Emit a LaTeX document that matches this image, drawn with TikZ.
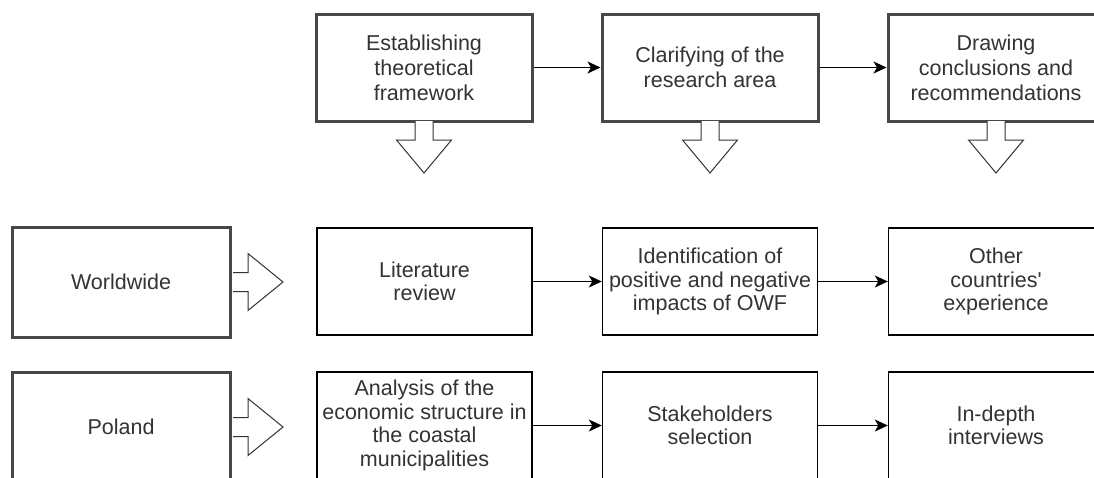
\documentclass[tikz,border=0pt]{standalone}
\usepackage{fontspec}
\setmainfont{Liberation Sans}
\usetikzlibrary{arrows.meta,calc}
\begin{document}
\begin{tikzpicture}[x=1pt,y=-1pt,
  thickbox/.style={draw=black!72,line width=3pt,fill=white,minimum width=216pt,minimum height=107pt,inner sep=0pt,align=center,text=black!80,font=\fontsize{21.5}{25}\selectfont},
  sidebox/.style={thickbox,minimum width=218pt,minimum height=110pt},
  thinbox/.style={draw=black,line width=1.4pt,fill=white,minimum width=215pt,minimum height=107pt,inner sep=0pt,align=center,text=black!80,font=\fontsize{21.5}{23.5}\selectfont},
  conn/.style={draw=black,line width=1.3pt,-{Stealth[length=13pt,width=12pt,inset=3.5pt]}},
  blockarrow/.style={draw=black!80,line width=1pt,fill=white,line join=miter}
]
\useasboundingbox (0,0) rectangle (1094,477);
\clip (0,0) rectangle (1094,477);
% top row
\node[thickbox] (t1) at (424,67.5) {Establishing\\theoretical\\framework};
\node[thickbox] (t2) at (710,67.5) {Clarifying of the\\research area};
\node[thickbox] (t3) at (996,67.5) {Drawing\\conclusions and\\recommendations};
% middle row
\node[sidebox] (w) at (121,282) {Worldwide};
\node[thinbox] (m1) at (424.5,281.5) {Literature\\review};
\node[thinbox] (m2) at (710,281.5) {Identification of\\positive and negative\\impacts of OWF};
\node[thinbox] (m3) at (996,281.5) {Other\\countries\textquotesingle\\experience};
% bottom row
\node[sidebox] (p) at (121,427) {Poland};
\node[thinbox] (b1) at (424.5,425.5) {Analysis of the\\economic structure in\\the coastal\\municipalities};
\node[thinbox] (b2) at (710,425.5) {Stakeholders\\selection};
\node[thinbox] (b3) at (996,425.5) {In-depth\\interviews};
% connectors
\draw[conn] (t1) -- (t2);
\draw[conn] (t2) -- (t3);
\draw[conn] (m1) -- (m2);
\draw[conn] (m2) -- (m3);
\draw[conn] (b1) -- (b2);
\draw[conn] (b2) -- (b3);
% down block arrows
\foreach \n in {t1,t2,t3}{
  \coordinate (s) at ([yshift=1.5pt]\n.south);
  \draw[blockarrow] ($(s)+(-9,0)$) -- ($(s)+(-9,19)$) -- ($(s)+(-27.5,19)$) -- ($(s)+(0,52)$) -- ($(s)+(27.5,19)$) -- ($(s)+(9,19)$) -- ($(s)+(9,0)$);
}
% right block arrows
\foreach \n in {w,p}{
  \coordinate (e) at ([xshift=1.5pt]\n.east);
  \draw[blockarrow] ($(e)+(0,-9.5)$) -- ($(e)+(15,-9.5)$) -- ($(e)+(15,-28.5)$) -- ($(e)+(50,0)$) -- ($(e)+(15,28.5)$) -- ($(e)+(15,9.5)$) -- ($(e)+(0,9.5)$);
}
\end{tikzpicture}
\end{document}
